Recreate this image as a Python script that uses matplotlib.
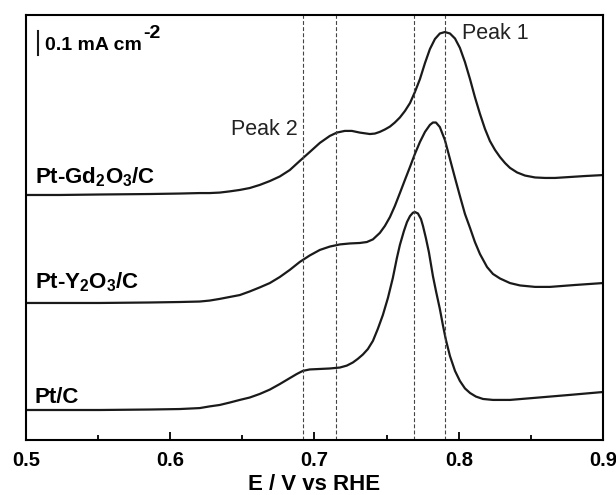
import numpy as np
import matplotlib
matplotlib.use("Agg")
import matplotlib.pyplot as plt
from matplotlib.ticker import MultipleLocator

plt.rcParams["font.family"] = ["Liberation Sans", "DejaVu Sans"]
plt.rcParams["mathtext.default"] = "regular"

# Potential (V vs RHE) and current density (mA cm^-2, relative to each trace's own baseline)
E_gd = [0.5000, 0.5232, 0.5510, 0.5857, 0.6065, 0.6204, 0.6273, 0.6343, 0.6412, 0.6482,
        0.6551, 0.6621, 0.6690, 0.6759, 0.6829, 0.6898, 0.6967, 0.7037, 0.7106, 0.7155,
        0.7210, 0.7259, 0.7314, 0.7384, 0.7419, 0.7453, 0.7488, 0.7523, 0.7557, 0.7592,
        0.7627, 0.7662, 0.7696, 0.7731, 0.7766, 0.7800, 0.7835, 0.7869, 0.7904, 0.7939,
        0.7974, 0.8008, 0.8043, 0.8078, 0.8112, 0.8147, 0.8182, 0.8216, 0.8251, 0.8286,
        0.8321, 0.8355, 0.8404, 0.8459, 0.8529, 0.8598, 0.8668, 0.8772, 0.8876, 0.9000]
j_gd = [0.000, 0.000, 0.002, 0.004, 0.006, 0.008, 0.008, 0.010, 0.015, 0.021,
        0.029, 0.042, 0.058, 0.077, 0.104, 0.142, 0.179, 0.217, 0.246, 0.260,
        0.267, 0.267, 0.260, 0.254, 0.256, 0.263, 0.273, 0.285, 0.302, 0.323,
        0.350, 0.383, 0.429, 0.483, 0.550, 0.608, 0.650, 0.673, 0.679, 0.673,
        0.652, 0.613, 0.554, 0.483, 0.408, 0.338, 0.275, 0.225, 0.188, 0.158,
        0.133, 0.113, 0.094, 0.081, 0.073, 0.071, 0.071, 0.075, 0.079, 0.083]

E_y = [0.5000, 0.5510, 0.5857, 0.6065, 0.6204, 0.6273, 0.6343, 0.6412, 0.6482, 0.6551,
       0.6621, 0.6690, 0.6759, 0.6829, 0.6898, 0.6967, 0.7037, 0.7106, 0.7176, 0.7245,
       0.7314, 0.7363, 0.7405, 0.7453, 0.7488, 0.7523, 0.7557, 0.7592, 0.7627, 0.7662,
       0.7696, 0.7731, 0.7766, 0.7800, 0.7821, 0.7842, 0.7869, 0.7904, 0.7939, 0.7974,
       0.8008, 0.8043, 0.8078, 0.8112, 0.8147, 0.8196, 0.8237, 0.8286, 0.8355, 0.8425,
       0.8529, 0.8633, 0.8807, 0.9000]
j_y = [0.000, 0.000, 0.002, 0.004, 0.006, 0.010, 0.017, 0.025, 0.033, 0.048,
       0.065, 0.083, 0.108, 0.138, 0.171, 0.198, 0.221, 0.235, 0.244, 0.248,
       0.250, 0.254, 0.265, 0.292, 0.321, 0.358, 0.404, 0.458, 0.513, 0.567,
       0.621, 0.671, 0.713, 0.742, 0.752, 0.752, 0.733, 0.679, 0.600, 0.521,
       0.446, 0.371, 0.313, 0.254, 0.204, 0.150, 0.121, 0.102, 0.083, 0.073,
       0.067, 0.067, 0.075, 0.083]

E_pt = [0.5000, 0.5510, 0.5857, 0.6065, 0.6204, 0.6273, 0.6343, 0.6412, 0.6482, 0.6551,
        0.6621, 0.6690, 0.6759, 0.6829, 0.6877, 0.6919, 0.6967, 0.7037, 0.7106, 0.7176,
        0.7224, 0.7266, 0.7300, 0.7335, 0.7370, 0.7405, 0.7439, 0.7474, 0.7509, 0.7543,
        0.7571, 0.7592, 0.7620, 0.7641, 0.7662, 0.7682, 0.7696, 0.7717, 0.7738, 0.7752,
        0.7772, 0.7793, 0.7821, 0.7842, 0.7869, 0.7890, 0.7911, 0.7939, 0.7974, 0.8008,
        0.8043, 0.8078, 0.8119, 0.8168, 0.8237, 0.8355, 0.8515, 0.8772, 0.9000]
j_pt = [0.000, 0.000, 0.002, 0.004, 0.008, 0.015, 0.021, 0.031, 0.042, 0.052,
        0.067, 0.085, 0.108, 0.133, 0.150, 0.163, 0.169, 0.171, 0.173, 0.177,
        0.185, 0.198, 0.213, 0.231, 0.254, 0.288, 0.338, 0.396, 0.467, 0.550,
        0.633, 0.688, 0.746, 0.783, 0.808, 0.822, 0.825, 0.819, 0.796, 0.767,
        0.717, 0.658, 0.558, 0.496, 0.421, 0.354, 0.292, 0.225, 0.163, 0.121,
        0.090, 0.071, 0.056, 0.046, 0.042, 0.042, 0.050, 0.063, 0.075]

labels = ["Pt-Gd$_2$O$_3$/C", "Pt-Y$_2$O$_3$/C", "Pt/C"]
offsets = [1.021, 0.571, 0.125]          # vertical stacking of the traces
peak_potentials = [0.6922, 0.7147, 0.7693, 0.7908]
xticks = [0.5, 0.6, 0.7, 0.8, 0.9]

fig = plt.figure(figsize=(6.16, 4.95), dpi=100)
ax = fig.add_axes([26 / 616, 55 / 495, 577 / 616, 425 / 495])

for E, j, off in zip([E_gd, E_y, E_pt], [j_gd, j_y, j_pt], offsets):
    ax.plot(E, np.asarray(j) + off, color="#1a1a1a", lw=1.6,
            solid_joinstyle="round", solid_capstyle="round")

for xp in peak_potentials:
    ax.axvline(xp, color="#444444", lw=0.8, ls=(0, (3.5, 2.0)))

# trace labels
label_y = [1.071, 0.633, 0.154]
for lab, yy in zip(labels, label_y):
    ax.text(0.5062, yy, lab, fontsize=16, fontweight="bold", va="baseline", ha="left")

ax.text(0.6886, 1.271, "Peak 2", fontsize=15.5, va="baseline", ha="right", color="#222222")
ax.text(0.8022, 1.671, "Peak 1", fontsize=15.5, va="baseline", ha="left", color="#222222")

# scale bar
ax.plot([0.5083, 0.5083], [1.604, 1.704], color="#1a1a1a", lw=1.5)
ax.text(0.5135, 1.625, "0.1 mA cm", fontsize=14, fontweight="bold",
        va="baseline", ha="left")
ax.text(0.5812, 1.675, "-2", fontsize=14, fontweight="bold",
        va="baseline", ha="left")

ax.set_xlim(0.5, 0.9)
ax.set_ylim(0, 1.771)
ax.set_xticks(xticks)
ax.set_xticklabels([f"{t:.1f}" for t in xticks], fontsize=14.5, fontweight="bold")
ax.xaxis.set_minor_locator(MultipleLocator(0.05))
ax.tick_params(axis="x", which="major", direction="in", length=6, width=1.3, pad=8)
ax.tick_params(axis="x", which="minor", direction="in", length=3.8, width=1.3)
ax.set_yticks([])
ax.set_xlabel("E / V vs RHE", fontsize=16, fontweight="bold", labelpad=3)
for s in ax.spines.values():
    s.set_linewidth(1.5)

fig.savefig("out.png", dpi=100)
